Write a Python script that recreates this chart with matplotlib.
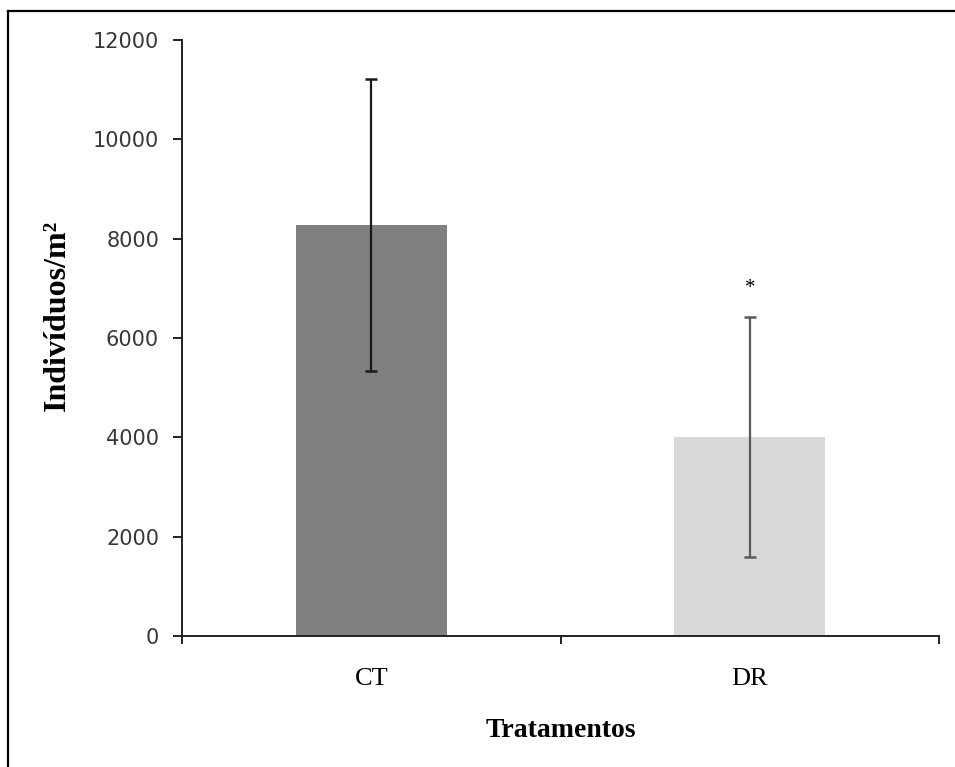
import matplotlib
matplotlib.use("Agg")
import matplotlib.pyplot as plt
from matplotlib.lines import Line2D

# Density of individuals per treatment (mean and standard deviation)
categories = ["CT", "DR"]
means = [8270, 4010]
errors = [2935, 2420]
bar_colors = ["#808080", "#d9d9d9"]
err_colors = ["#1a1a1a", "#5a5a5a"]
y_ticks = [0, 2000, 4000, 6000, 8000, 10000, 12000]
significance = ["", "*"]

W, H = 955, 767
fig = plt.figure(figsize=(W / 100, H / 100), dpi=100)
fig.patch.set_facecolor("white")

# Frame around the chart area (open at right and bottom edges)
fig.add_artist(Line2D([8 / W, 8 / W], [0, 1 - 11 / H], transform=fig.transFigure,
                      color="black", lw=1.6))
fig.add_artist(Line2D([8 / W, 1], [1 - 11 / H, 1 - 11 / H], transform=fig.transFigure,
                      color="black", lw=1.6))

ax = fig.add_axes([182 / W, 131 / H, (939 - 182) / W, (636 - 40) / H])

x = list(range(len(categories)))
ax.bar(x, means, width=0.4, color=bar_colors, zorder=2)
for xi, m, e, c in zip(x, means, errors, err_colors):
    ax.errorbar(xi, m, yerr=e, fmt="none", ecolor=c, elinewidth=1.6,
                capsize=4.5, capthick=1.8, zorder=3)

for xi, m, e, s in zip(x, means, errors, significance):
    if s:
        ax.annotate(s, xy=(xi, m + e), xytext=(0, 20), textcoords="offset points",
                    ha="center", va="center", fontsize=15,
                    fontfamily="Liberation Serif")

ax.set_xlim(-0.5, 1.5)
ax.set_ylim(0, 12000)
ax.set_yticks(y_ticks)
ax.set_yticklabels([str(t) for t in y_ticks], fontfamily="DejaVu Sans",
                   fontsize=15, color="#383838")

# Category labels sit between boundary ticks
ax.set_xticks([-0.5, 0.5, 1.5])
ax.set_xticklabels([])
ax.set_xticks(x, minor=True)
ax.set_xticklabels(categories, minor=True, fontfamily="Liberation Serif",
                   fontsize=19)
ax.tick_params(axis="x", which="major", direction="out", length=6, width=1.4,
               color="#222222")
ax.tick_params(axis="x", which="minor", length=0, pad=23)
ax.tick_params(axis="y", direction="out", length=6.5, width=1.4,
               color="#222222", pad=10)

for side in ("top", "right"):
    ax.spines[side].set_visible(False)
for side in ("left", "bottom"):
    ax.spines[side].set_linewidth(1.4)
    ax.spines[side].set_color("#222222")

ax.set_xlabel("Tratamentos", fontfamily="Liberation Serif", fontweight="bold",
              fontsize=20, labelpad=20)
fig.text(57 / W, 1 - 315 / H, "Indivíduos/m²", rotation=90, ha="center",
         va="center", fontfamily="Liberation Serif", fontweight="bold",
         fontsize=23)

fig.savefig("out.png", dpi=100, facecolor="white")
